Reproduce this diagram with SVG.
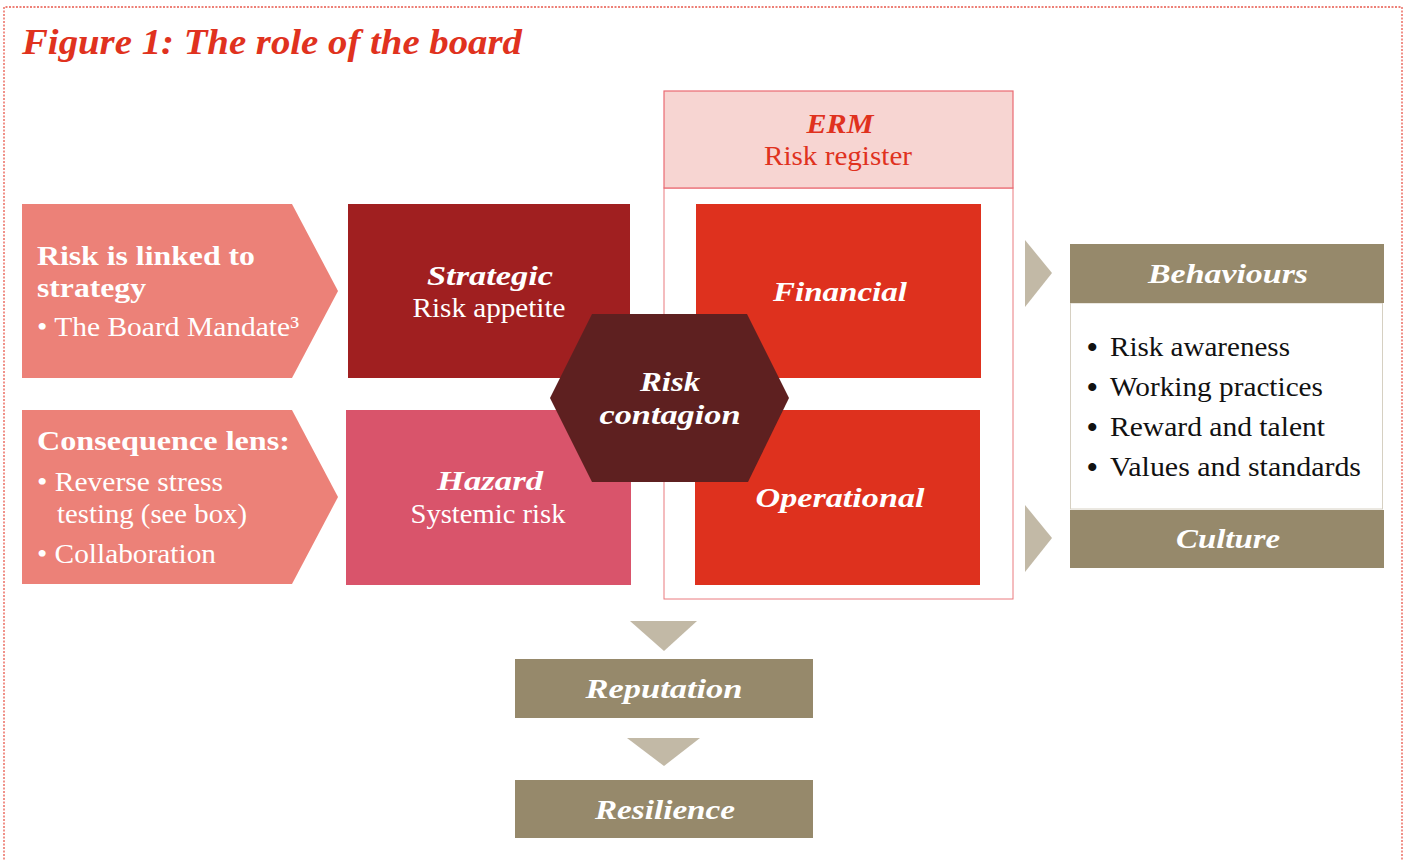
<svg xmlns="http://www.w3.org/2000/svg" width="1406" height="860" viewBox="0 0 1406 860">
<defs>
<style>
text{font-family:"Liberation Serif","Times New Roman",serif;}
.w{fill:#ffffff;}
.bi{font-weight:bold;font-style:italic;}
.b{font-weight:bold;}
.t{font-size:28px;}
.blk{fill:#111111;}
.red{fill:#e0321e;}
.tan{fill:#96896b;}
.chev{fill:#c2b9a6;}
.bul{font-size:30px;font-weight:bold;fill:#111111;}
</style>
</defs>
<rect width="1406" height="860" fill="#ffffff"/>
<path d="M4 870 V7 H1402 V870" fill="none" stroke="#e8574a" stroke-width="1.3" stroke-dasharray="2 1.5"/>
<text x="22" y="54" class="bi red" font-size="35" textLength="500" lengthAdjust="spacingAndGlyphs">Figure 1: The role of the board</text>

<g id="connectors">
<polygon class="chev" points="1025,240 1052,273 1025,307"/>
<polygon class="chev" points="1025,505 1052,538 1025,572"/>
<polygon class="chev" points="630,621 697,621 664,651"/>
<polygon class="chev" points="627,738 700,738 664,766"/>
</g>

<g id="erm">
<rect x="664" y="188" width="349" height="411" fill="#ffffff" stroke="#ea7a7e" stroke-width="1"/>
<rect x="664" y="91" width="349" height="97" fill="#f7d5d2" stroke="#ea6a72" stroke-width="1.2"/>
<text x="840" y="133" text-anchor="middle" class="bi red t" textLength="67" lengthAdjust="spacingAndGlyphs">ERM</text>
<text x="838" y="165" text-anchor="middle" class="red t" textLength="148" lengthAdjust="spacingAndGlyphs">Risk register</text>
</g>

<g id="risk-strategy">
<polygon points="22,204 292,204 338,291 292,378 22,378" fill="#ec8178"/>
<text x="37" y="265" class="w b" font-size="28" textLength="218" lengthAdjust="spacingAndGlyphs">Risk is linked to</text>
<text x="37" y="297" class="w b" font-size="28" textLength="109" lengthAdjust="spacingAndGlyphs">strategy</text>
<text x="37" y="336" class="w t" textLength="262" lengthAdjust="spacingAndGlyphs">• The Board Mandate³</text>
</g>

<g id="consequence">
<polygon points="22,410 292,410 338,497 292,584 22,584" fill="#ec8178"/>
<text x="37" y="450" class="w b" font-size="28" textLength="253" lengthAdjust="spacingAndGlyphs">Consequence lens:</text>
<text x="37" y="491" class="w t" textLength="186" lengthAdjust="spacingAndGlyphs">• Reverse stress</text>
<text x="57" y="523" class="w t" textLength="190" lengthAdjust="spacingAndGlyphs">testing (see box)</text>
<text x="37" y="563" class="w t" textLength="179" lengthAdjust="spacingAndGlyphs">• Collaboration</text>
</g>

<g id="strategic">
<rect x="348" y="204" width="282" height="174" fill="#a01f20"/>
<text x="490" y="285" text-anchor="middle" class="w bi t" textLength="126" lengthAdjust="spacingAndGlyphs">Strategic</text>
<text x="489" y="317" text-anchor="middle" class="w t" textLength="153" lengthAdjust="spacingAndGlyphs">Risk appetite</text>
</g>

<g id="hazard">
<rect x="346" y="410" width="285" height="175" fill="#d9546b"/>
<text x="490" y="490" text-anchor="middle" class="w bi t" textLength="106" lengthAdjust="spacingAndGlyphs">Hazard</text>
<text x="488" y="523" text-anchor="middle" class="w t" textLength="155" lengthAdjust="spacingAndGlyphs">Systemic risk</text>
</g>

<g id="financial">
<rect x="696" y="204" width="285" height="174" fill="#de311e"/>
<text x="840" y="301" text-anchor="middle" class="w bi t" textLength="134" lengthAdjust="spacingAndGlyphs">Financial</text>
</g>

<g id="operational">
<rect x="695" y="410" width="285" height="175" fill="#de311e"/>
<text x="840" y="507" text-anchor="middle" class="w bi t" textLength="169" lengthAdjust="spacingAndGlyphs">Operational</text>
</g>

<g id="contagion">
<polygon points="550,398 592,314 747,314 789,398 748,482 592,482" fill="#5e2020"/>
<text x="670" y="391" text-anchor="middle" class="w bi t" textLength="60" lengthAdjust="spacingAndGlyphs">Risk</text>
<text x="670" y="424" text-anchor="middle" class="w bi t" textLength="141" lengthAdjust="spacingAndGlyphs">contagion</text>
</g>

<g id="behaviours">
<rect x="1070.5" y="303" width="312" height="206" fill="#ffffff" stroke="#d6d0c2" stroke-width="1"/>
<rect x="1070" y="244" width="314" height="59" class="tan"/>
<text x="1228" y="283" text-anchor="middle" class="w bi t" textLength="160" lengthAdjust="spacingAndGlyphs">Behaviours</text>
<text x="1087" y="357" class="bul">•</text>
<text x="1110" y="356" class="blk t" textLength="180" lengthAdjust="spacingAndGlyphs">Risk awareness</text>
<text x="1087" y="397" class="bul">•</text>
<text x="1110" y="396" class="blk t" textLength="213" lengthAdjust="spacingAndGlyphs">Working practices</text>
<text x="1087" y="437" class="bul">•</text>
<text x="1110" y="436" class="blk t" textLength="215" lengthAdjust="spacingAndGlyphs">Reward and talent</text>
<text x="1087" y="477" class="bul">•</text>
<text x="1110" y="476" class="blk t" textLength="251" lengthAdjust="spacingAndGlyphs">Values and standards</text>
</g>

<g id="culture">
<rect x="1070" y="510" width="314" height="58" class="tan"/>
<text x="1228" y="548" text-anchor="middle" class="w bi t" textLength="104" lengthAdjust="spacingAndGlyphs">Culture</text>
</g>

<g id="reputation">
<rect x="515" y="659" width="298" height="59" class="tan"/>
<text x="664" y="698" text-anchor="middle" class="w bi t" textLength="157" lengthAdjust="spacingAndGlyphs">Reputation</text>
</g>

<g id="resilience">
<rect x="515" y="780" width="298" height="58" class="tan"/>
<text x="665" y="819" text-anchor="middle" class="w bi t" textLength="140" lengthAdjust="spacingAndGlyphs">Resilience</text>
</g>
</svg>
